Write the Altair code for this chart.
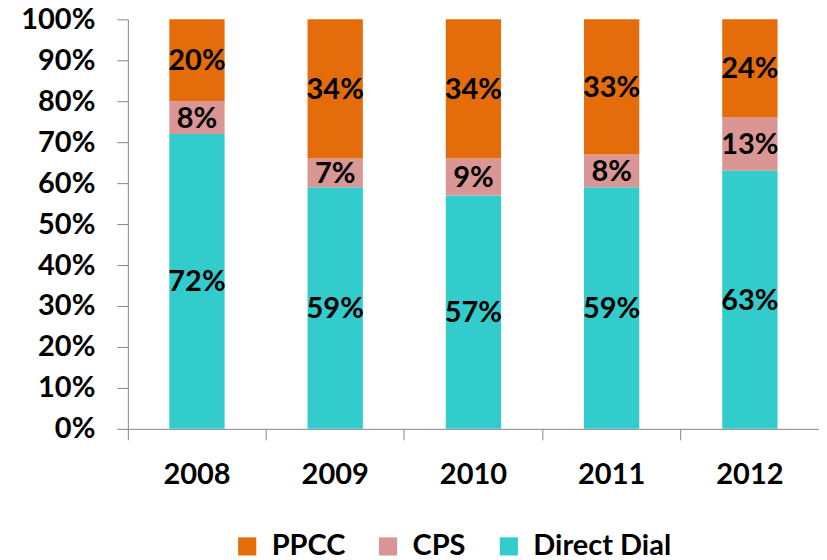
import altair as alt
import pandas as pd

years = ["2008", "2009", "2010", "2011", "2012"]
direct_dial = [72, 59, 57, 59, 63]
cps = [8, 7, 9, 8, 13]
ppcc = [20, 34, 34, 33, 24]

series_names = ["PPCC", "CPS", "Direct Dial"]
series_colors = ["#E46C0A", "#D99694", "#33CCCC"]
stack_order = {"Direct Dial": 0, "CPS": 1, "PPCC": 2}

rows = []
for i, y in enumerate(years):
    for name, vals in (("Direct Dial", direct_dial), ("CPS", cps), ("PPCC", ppcc)):
        rows.append({"year": y, "series": name, "value": vals[i], "ord": stack_order[name]})
df = pd.DataFrame(rows)

FONT = "Lato"
FS = 29
AXIS_COLOR = "#868686"

base = alt.Chart(df).transform_stack(
    stack="value", groupby=["year"], sort=[alt.SortField("ord", order="ascending")], as_=["y0", "y1"]
).transform_calculate(
    ymid="(datum.y0 + datum.y1) / 2", label="datum.value + '%'"
)

x_enc = alt.X(
    "year:N",
    title=None,
    scale=alt.Scale(paddingInner=0, paddingOuter=0),
    axis=alt.Axis(
        labelAngle=0,
        labelFont=FONT,
        labelFontSize=FS,
        labelFontWeight="bold",
        labelColor="black",
        labelPadding=21,
        domainColor=AXIS_COLOR,
        tickColor=AXIS_COLOR,
        tickSize=11,
        bandPosition=1,
        tickExtra=True,
        grid=False,
    ),
)

bars = base.mark_bar(width=alt.RelativeBandSize(0.4)).encode(
    x=x_enc,
    y=alt.Y(
        "y0:Q",
        title=None,
        scale=alt.Scale(domain=[0, 100], nice=False),
        axis=alt.Axis(
            values=list(range(0, 101, 10)),
            labelExpr="datum.value + '%'",
            labelFont=FONT,
            labelFontSize=FS,
            labelFontWeight="bold",
            labelColor="black",
            labelPadding=22,
            domainColor=AXIS_COLOR,
            tickColor=AXIS_COLOR,
            tickSize=11,
            grid=False,
        ),
    ),
    y2="y1:Q",
    color=alt.Color(
        "series:N",
        scale=alt.Scale(domain=series_names, range=series_colors),
        legend=alt.Legend(
            title=None,
            orient="none",
            direction="horizontal",
            legendX=105,
            legendY=513,
            symbolType="square",
            symbolSize=330,
            symbolStrokeWidth=0,
            symbolOpacity=1,
            labelFont=FONT,
            labelFontSize=FS,
            labelFontWeight="bold",
            labelColor="black",
            labelOffset=10,
            columnPadding=28,
            padding=0,
        ),
    ),
)

labels = base.mark_text(
    font=FONT, fontSize=FS, fontWeight="bold", color="black", baseline="middle", dy=1
).encode(
    x=alt.X("year:N"),
    y=alt.Y("ymid:Q"),
    text="label:N",
)

chart = (
    alt.layer(bars, labels)
    .properties(
        width=692,
        height=410,
        padding={"left": 120, "top": 11, "right": 0, "bottom": 150},
        autosize=alt.AutoSizeParams(type="none"),
    )
    .configure_view(stroke=None)
)

chart.save("out.html", embed_options={"renderer": "svg", "actions": False})
